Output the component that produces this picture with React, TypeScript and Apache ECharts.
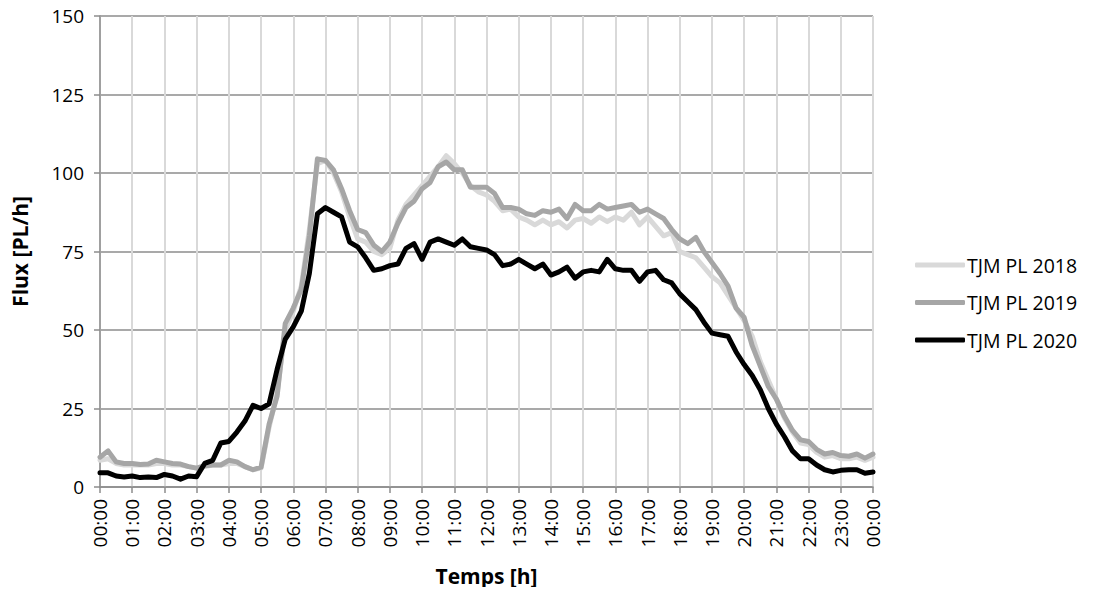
import React, { useEffect, useRef } from "react";
import * as echarts from "echarts";

const TIMES: string[] = [];
for (let i = 0; i <= 96; i++) {
  const h = Math.floor(i / 4) % 24;
  const m = (i % 4) * 15;
  TIMES.push(`${String(h).padStart(2, "0")}:${String(m).padStart(2, "0")}`);
}

const Y_TICKS = [0, 25, 50, 75, 100, 125, 150];

const TJM_2018 = [
  8.5, 9, 7.5, 7, 7, 7, 7, 7.5, 7.5, 7, 7, 6.5, 6, 6.5, 7, 7, 7.5, 7.5, 6.5, 5.5,
  6, 19, 30, 50, 56, 64, 82, 103, 104, 100, 94, 86, 79, 78, 75, 74, 76, 85, 90, 93,
  96, 99, 102, 105.5, 103, 100, 96, 94, 93, 91, 88, 88.5, 86, 85, 83.5, 85, 83.5, 84.5, 82.5, 85,
  85.5, 84, 86, 84.5, 86, 85, 87.5, 83.5, 86, 83, 80, 81, 75, 74, 73, 70, 67, 65, 61, 57,
  53, 48, 40, 34, 28, 22, 17.5, 14, 13.5, 11, 9.5, 10, 9, 9, 9.5, 8.5, 9.5,
];

const TJM_2019 = [
  9.5, 11.5, 8, 7.5, 7.5, 7.2, 7.3, 8.5, 8, 7.5, 7.3, 6.5, 6, 6.8, 7, 7, 8.5, 8, 6.5, 5.5,
  6.3, 20, 29, 52, 57, 63, 80, 104.5, 104, 101, 95, 88, 82, 81, 77, 75, 78, 84, 89, 91,
  95, 97, 102, 103.5, 101, 101, 95.5, 95.5, 95.5, 93.5, 89, 89, 88.5, 87, 86.5, 88, 87.5, 88.5, 85.5, 90,
  88, 88, 90, 88.5, 89, 89.5, 90, 87.5, 88.5, 87, 85.5, 82, 79, 77.5, 79.5, 75, 71.5, 68, 64, 57,
  54, 45, 38.5, 32, 28, 22.5, 18, 15, 14.5, 12, 10.5, 11, 10, 9.8, 10.5, 9.2, 10.5,
];

const TJM_2020 = [
  4.5, 4.5, 3.5, 3.2, 3.5, 3, 3.2, 3, 4, 3.5, 2.5, 3.5, 3.3, 7.5, 8.5, 14, 14.5, 17.5, 21, 26,
  25, 26.5, 37.5, 47, 51, 56, 68, 87, 89, 87.5, 86, 78, 76.5, 73, 69, 69.5, 70.5, 71, 76, 77.5,
  72.5, 78, 79, 78, 77, 79, 76.5, 76, 75.5, 74, 70.5, 71, 72.5, 71, 69.5, 71, 67.5, 68.5, 70, 66.5,
  68.5, 69, 68.5, 72.5, 69.5, 69, 69, 65.5, 68.5, 69, 66, 65, 61.5, 59, 56.5, 52.5, 49, 48.5, 48, 43,
  39, 35.5, 31, 25, 20, 16, 11.5, 9, 9, 7, 5.5, 4.8, 5.3, 5.5, 5.5, 4.4, 4.8,
];

const SERIES_NAMES = ["TJM PL 2018", "TJM PL 2019", "TJM PL 2020"];
const SERIES_COLORS = ["#d9d9d9", "#a6a6a6", "#000000"];

const FONT = "'Open Sans', 'Noto Sans', sans-serif";

export default function App() {
  const ref = useRef<HTMLDivElement>(null);
  useEffect(() => {
    if (!ref.current) return;
    const chart = echarts.init(ref.current, undefined, { renderer: "svg" });
    const data = [TJM_2018, TJM_2019, TJM_2020];
    chart.setOption({
      animation: false,
      backgroundColor: "#ffffff",
      grid: { left: 100, right: 221, top: 16, bottom: 108 },
      legend: {
        orient: "vertical",
        left: 910,
        top: 249,
        itemWidth: 50,
        itemHeight: 5,
        itemGap: 15.5,
        icon: "roundRect",
        textStyle: { fontFamily: FONT, fontSize: 19.5, color: "#000", lineHeight: 22, padding: [0, 0, 0, -3] },
        data: SERIES_NAMES,
      },
      xAxis: {
        type: "category",
        data: TIMES,
        boundaryGap: false,
        name: "Temps [h]",
        nameLocation: "middle",
        nameGap: 78,
        nameTextStyle: { fontFamily: FONT, fontSize: 21, fontWeight: "bold", color: "#000" },
        axisLine: { lineStyle: { color: "#8c8c8c", width: 1.5 } },
        axisTick: { show: true, interval: 3, length: 6, lineStyle: { color: "#8c8c8c", width: 1.5 } },
        axisLabel: {
          interval: 3,
          rotate: 90,
          fontFamily: FONT,
          fontSize: 19,
          color: "#000",
          margin: 12,
        },
        splitLine: { show: true, interval: 3, lineStyle: { color: "#d9d9d9", width: 2 } },
      },
      yAxis: {
        type: "value",
        min: Y_TICKS[0],
        max: Y_TICKS[Y_TICKS.length - 1],
        interval: 25,
        name: "Flux [PL/h]",
        nameLocation: "middle",
        nameGap: 70,
        nameTextStyle: { fontFamily: FONT, fontSize: 21, fontWeight: "bold", color: "#000" },
        axisLine: { show: true, lineStyle: { color: "#8c8c8c", width: 1.5 } },
        axisTick: { show: true, length: 6, lineStyle: { color: "#8c8c8c", width: 1.5 } },
        axisLabel: { fontFamily: FONT, fontSize: 19, color: "#000", margin: 16 },
        splitLine: { show: true, lineStyle: { color: "#8c8c8c", width: 1.5 } },
      },
      series: SERIES_NAMES.map((name, i) => ({
        name,
        type: "line",
        data: data[i],
        showSymbol: false,
        symbol: "none",
        lineStyle: { color: SERIES_COLORS[i], width: 5, join: "round", cap: "round" },
        itemStyle: { color: SERIES_COLORS[i] },
        z: 2 + i,
      })),
    });
    return () => chart.dispose();
  }, []);
  return <div ref={ref} style={{ width: 1094, height: 595, margin: -8 }} />;
}
